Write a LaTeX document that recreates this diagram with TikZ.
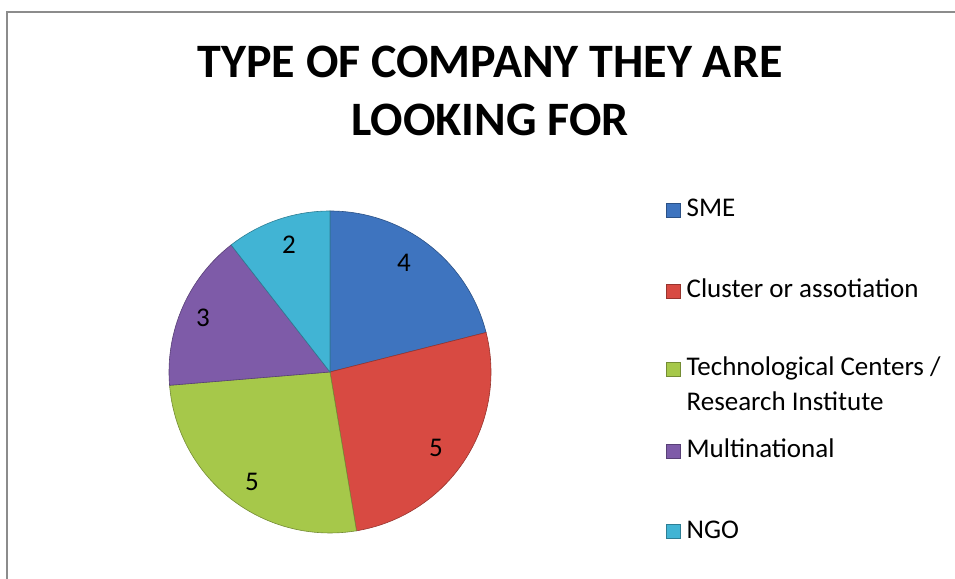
\documentclass[tikz,border=0pt]{standalone}
\usepackage{fontspec}
\setmainfont{Carlito}
\usepackage{tikz}
\usetikzlibrary{positioning, calc}

\definecolor{smeblue}{HTML}{3E74BF}
\definecolor{clusterred}{HTML}{D84A42}
\definecolor{techgreen}{HTML}{A6C84A}
\definecolor{multipurple}{HTML}{7E5BA8}
\definecolor{ngocyan}{HTML}{41B4D4}
\definecolor{framegray}{HTML}{8C8C8C}

\tikzset{
  slice/.style={draw=#1!70!black, line width=0.6pt, fill=#1},
  key/.style={draw=#1!70!black, line width=0.4pt, fill=#1, minimum size=14pt, inner sep=0pt},
  keytext/.style={anchor=base west, font=\fontsize{27}{35}\selectfont, inner sep=0pt, align=left},
  datalabel/.style={font=\fontsize{27}{33}\selectfont, inner sep=0pt}
}

\begin{document}
\begin{tikzpicture}[x=1pt, y=1pt]
   \useasboundingbox (0,0) rectangle (955,578);
   \draw[framegray, line width=2pt] (962,566) -- (7,566) -- (7,-5);

   % title
   \node[font=\bfseries\fontsize{48}{58}\selectfont, align=center, anchor=base] (title) at (490,442) {TYPE OF COMPANY THEY ARE\\LOOKING FOR};

   % pie, centre and radius
   \coordinate (C) at (330,206);
   \fill[slice=smeblue] (C) -- ++(90:161) arc[start angle=90, end angle=14.21, radius=161] -- cycle;
   \fill[slice=clusterred] (C) -- ++(14.21:161) arc[start angle=14.21, end angle=-80.53, radius=161] -- cycle;
   \fill[slice=techgreen] (C) -- ++(-80.53:161) arc[start angle=-80.53, end angle=-175.26, radius=161] -- cycle;
   \fill[slice=multipurple] (C) -- ++(-175.26:161) arc[start angle=-175.26, end angle=-232.11, radius=161] -- cycle;
   \fill[slice=ngocyan] (C) -- ++(127.89:161) arc[start angle=127.89, end angle=90, radius=161] -- cycle;

   \node[datalabel] (nSME) at ($(C)+(74,109)$) {4};
   \node[datalabel] (nCluster) at ($(C)+(106,-76)$) {5};
   \node[datalabel] (nTech) at ($(C)+(-78,-110)$) {5};
   \node[datalabel] (nMulti) at ($(C)+(-127,54)$) {3};
   \node[datalabel] (nNGO) at ($(C)+(-41,127)$) {2};

   % legend
   \node[key=smeblue, anchor=south west] (kSME) at (666,361) {};
   \node[keytext, right=6pt of kSME.south east, anchor=base west] (tSME) {SME};
   \node[key=clusterred, anchor=south west] (kCluster) at (666,280) {};
   \node[keytext, right=6pt of kCluster.south east, anchor=base west] (tCluster) {Cluster or assotiation};
   \node[key=techgreen, anchor=south west] (kTech) at (666,202) {};
   \node[keytext, right=6pt of kTech.south east, anchor=base west, yshift=-35pt] (tTech) {Technological Centers /\\Research Institute};
   \node[key=multipurple, anchor=south west] (kMulti) at (666,120) {};
   \node[keytext, right=6pt of kMulti.south east, anchor=base west] (tMulti) {Multinational};
   \node[key=ngocyan, anchor=south west] (kNGO) at (666,40) {};
   \node[keytext, right=6pt of kNGO.south east, anchor=base west] (tNGO) {NGO};
\end{tikzpicture}
\end{document}
